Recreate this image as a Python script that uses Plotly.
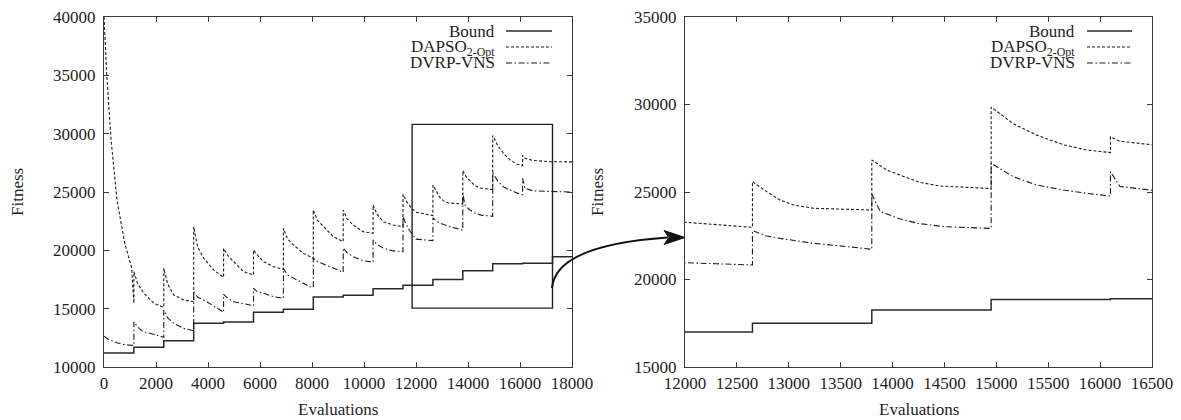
import plotly.graph_objects as go

# ---------------- data ----------------
bound_eval = [0, 1150, 2300, 3450, 4600, 5750, 6900, 8050, 9200, 10350,
              11500, 12650, 13800, 14950, 16100, 17250, 18000]
bound_fit = [11200, 11700, 12250, 13750, 13850, 14700, 14950, 16000, 16150, 16700,
             17000, 17500, 18250, 18850, 18900, 19450, 19450]

dapso_eval = [0, 100, 270, 500, 800, 1000, 1064, 1150,
              1150, 1300, 1535, 1920, 2300,
              2300, 2450, 2685, 3070, 3450,
              3450, 3600, 3835, 4220, 4600,
              4600, 4750, 4985, 5370, 5750,
              5750, 5900, 6135, 6520, 6900,
              6900, 7050, 7285, 7670, 8050,
              8050, 8200, 8435, 8820, 9200,
              9200, 9350, 9585, 9970, 10350,
              10350, 10500, 10735, 11120, 11500,
              11500, 11650, 11834, 12000, 12282, 12650,
              12650, 12787, 12915, 13044, 13237, 13800,
              13800, 13943, 14100, 14265, 14457, 14700, 14950,
              14950, 15164, 15389, 15645, 15871, 16100,
              16100, 16190, 16500, 17150, 18000]
dapso_fit = [40000, 35300, 29500, 24300, 20600, 19000, 18500, 15460,
             18170, 17100, 16320, 15460, 15120,
             18460, 17100, 16170, 15740, 15600,
             22030, 20300, 19320, 18310, 17690,
             20170, 19600, 19030, 18170, 17890,
             20030, 19600, 19030, 18600, 18370,
             21890, 21000, 20460, 19740, 19320,
             23460, 22600, 22030, 21170, 20740,
             23460, 22700, 22170, 21600, 21460,
             23890, 23100, 22460, 22170, 22030,
             24800, 24150, 23600, 23270, 23150, 22980,
             25590, 25020, 24540, 24260, 24070, 23970,
             26830, 26260, 25900, 25550, 25340, 25250, 25200,
             29850, 28900, 28250, 27700, 27400, 27250,
             28150, 27900, 27700, 27600, 27580]

vns_eval = [0, 150, 488, 800, 1150,
            1150, 1300, 1510, 1900, 2300,
            2300, 2450, 2685, 3070, 3450,
            3450, 3600, 3835, 4220, 4600,
            4600, 4750, 4985, 5370, 5750,
            5750, 5900, 6135, 6520, 6900,
            6900, 7050, 7410, 7923, 8050,
            8050, 8200, 8450, 8800, 9200,
            9200, 9350, 9585, 9970, 10350,
            10350, 10500, 10735, 11120, 11500,
            11500, 11600, 11750, 11850, 12000, 12300, 12650,
            12650, 12787, 12915, 13237, 13558, 13800,
            13800, 13880, 14050, 14250, 14500, 14950,
            14950, 15164, 15389, 15645, 15871, 16100,
            16100, 16190, 16500, 17150, 18000]
vns_fit = [12650, 12400, 12080, 11900, 11850,
           13880, 13400, 13030, 12800, 12550,
           14890, 14200, 13740, 13310, 13090,
           16450, 16000, 15740, 15230, 14700,
           16250, 15900, 15600, 15400, 15250,
           16750, 16450, 16320, 16030, 15890,
           18460, 17900, 17460, 16880, 16800,
           19320, 19050, 18800, 18450, 18120,
           20200, 19800, 19450, 19100, 19000,
           20890, 20500, 20200, 19950, 19880,
           22900, 22300, 21700, 21400, 20960, 20900, 20830,
           22790, 22490, 22350, 22070, 21880, 21725,
           24880, 23900, 23500, 23200, 23020, 22920,
           26640, 25875, 25400, 25114, 24925, 24770,
           26160, 25320, 25100, 25050, 25000]

series_names = ["Bound", "DAPSO<sub>2-Opt</sub>", "DVRP-VNS"]
zoom_box = dict(x0=11850, x1=17250, y0=15050, y1=30800)

# ---------------- styling ----------------
W, H = 1181, 420
OFF = 8  # page body margin in the browser
FONT = "Times New Roman, Liberation Serif, Times, serif"
INK = "#1e1e1e"
FRAME = "#3a3a3a"


def px(x):
    return (x - OFF) / W


def py(y):
    return 1 - (y - OFF) / H


fig = go.Figure()

styles = [
    dict(color="#2a2a2a", width=1.5, dash="solid"),
    dict(color=INK, width=1.1, dash="3px,2px"),
    dict(color=INK, width=1.1, dash="6px,2.5px,1.5px,2.5px"),
]

for xa, ya in (("x", "y"), ("x2", "y2")):
    fig.add_trace(go.Scatter(x=bound_eval, y=bound_fit, mode="lines", line_shape="hv",
                             line=styles[0], xaxis=xa, yaxis=ya, showlegend=False,
                             name="Bound"))
    fig.add_trace(go.Scatter(x=dapso_eval, y=dapso_fit, mode="lines",
                             line=styles[1], xaxis=xa, yaxis=ya, showlegend=False,
                             name="DAPSO"))
    fig.add_trace(go.Scatter(x=vns_eval, y=vns_fit, mode="lines",
                             line=styles[2], xaxis=xa, yaxis=ya, showlegend=False,
                             name="DVRP-VNS"))

axis_common = dict(showline=True, linecolor=FRAME, linewidth=1.3, mirror="ticks",
                   ticks="inside", ticklen=5, tickwidth=1, tickcolor=FRAME,
                   showgrid=False, zeroline=False, tickformat="d", automargin=False,
                   ticklabeloverflow="allow",
                   tickfont=dict(family=FONT, size=17, color=INK))

ydom = [py(367), py(17)]
fig.update_layout(
    width=W, height=H,
    margin=dict(l=0, r=0, t=0, b=0, autoexpand=False),
    paper_bgcolor="white", plot_bgcolor="white",
    showlegend=False,
    font=dict(family=FONT, size=17, color=INK),
    xaxis=dict(domain=[px(104), px(572)], range=[0, 18000], tick0=0, dtick=2000,
               anchor="y", ticklabelstandoff=0, **axis_common),
    yaxis=dict(domain=ydom, range=[10000, 40000], tick0=10000, dtick=5000,
               anchor="x", ticklabelstandoff=4, **axis_common),
    xaxis2=dict(domain=[px(685), px(1152)], range=[12000, 16500], tick0=12000, dtick=500,
                anchor="y2", ticklabelstandoff=0, **axis_common),
    yaxis2=dict(domain=ydom, range=[15000, 35000], tick0=15000, dtick=5000,
                anchor="x2", ticklabelstandoff=4, **axis_common),
)

ann = []
# axis titles
for cx in (338, 918.5):
    ann.append(dict(x=px(cx), y=py(409), xref="paper", yref="paper", text="Evaluations",
                    showarrow=False, xanchor="center", yanchor="middle",
                    font=dict(family=FONT, size=17, color=INK)))
for cx in (17, 597):
    ann.append(dict(x=px(cx), y=py(192), xref="paper", yref="paper", text="Fitness",
                    showarrow=False, xanchor="center", yanchor="middle", textangle=-90,
                    font=dict(family=FONT, size=17, color=INK)))

shapes = []
# legends (gnuplot style: text right-aligned, sample on its right)
row_y = [31, 47, 63]
for text_right, s0, s1 in ((497, 506, 552), (1077, 1087, 1132)):
    for i, name in enumerate(series_names):
        ann.append(dict(x=px(text_right), y=py(row_y[i] + (1 if i == 1 else 0)),
                        xref="paper", yref="paper", text=name,
                        showarrow=False, xanchor="right", yanchor="middle",
                        font=dict(family=FONT, size=17, color=INK)))
        shapes.append(dict(type="line", xref="paper", yref="paper",
                           x0=px(s0), x1=px(s1), y0=py(row_y[i]), y1=py(row_y[i]),
                           line=dict(color=styles[i]["color"], width=styles[i]["width"],
                                     dash=styles[i]["dash"])))

# zoom rectangle on the left plot
shapes.append(dict(type="rect", xref="x", yref="y", **zoom_box,
                   line=dict(color="#222", width=1.4)))

# curved arrow to the right plot
p0 = (552, 288)
c = (556, 245)
p2 = (668, 237.5)
path = (f"M {px(p0[0])} {py(p0[1])} Q {px(c[0])} {py(c[1])} {px(p2[0])} {py(p2[1])}")
shapes.append(dict(type="path", xref="paper", yref="paper", path=path,
                   line=dict(color="#111", width=2)))
head = (f"M {px(685)} {py(237.5)} L {px(664)} {py(230.5)} L {px(669)} {py(237.5)} "
        f"L {px(664)} {py(244.5)} Z")
shapes.append(dict(type="path", xref="paper", yref="paper", path=head,
                   fillcolor="#111", line=dict(color="#111", width=1)))

fig.update_layout(annotations=ann, shapes=shapes)
fig.write_html("out.html")
